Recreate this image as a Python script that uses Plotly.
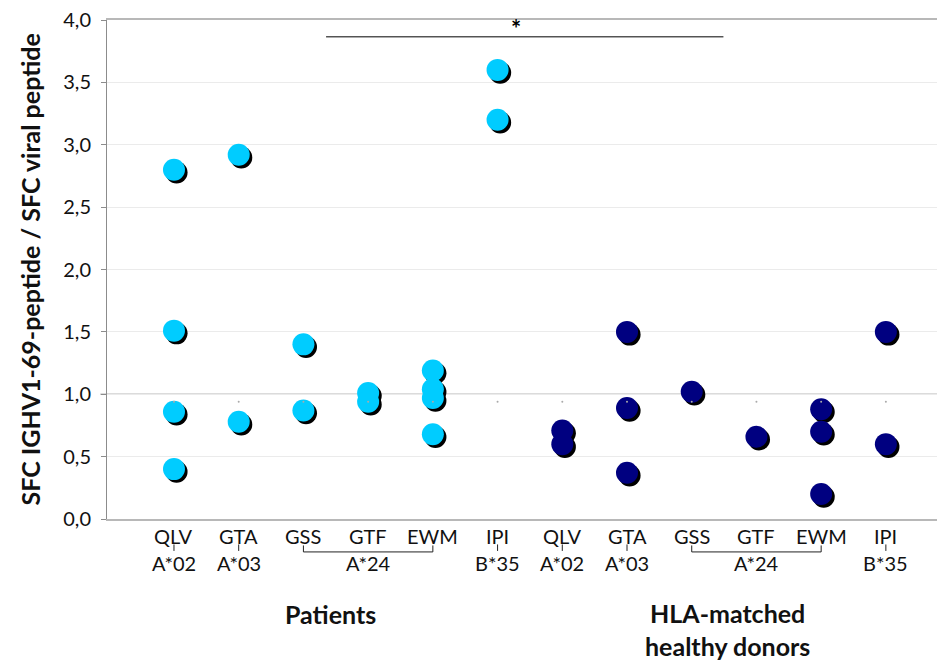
import plotly.graph_objects as go

# Peptides (x categories) with their HLA restriction
peptides = ["QLV", "GTA", "GSS", "GTF", "EWM", "IPI"]
hla = ["A*02", "A*03", "A*24", "A*24", "A*24", "B*35"]

# SFC ratio (IGHV1-69 peptide / viral peptide) per peptide
patients = [
    [2.80, 1.51, 0.86, 0.40],   # QLV
    [2.92, 0.78],               # GTA
    [1.40, 0.87],               # GSS
    [1.01, 0.94],               # GTF
    [1.19, 1.04, 0.97, 0.68],   # EWM
    [3.60, 3.20],               # IPI
]
donors = [
    [0.71, 0.60],               # QLV
    [1.50, 0.89, 0.37],         # GTA
    [1.02],                     # GSS
    [0.66],                     # GTF
    [0.88, 0.70, 0.20],         # EWM
    [1.50, 0.60],               # IPI
]
# small median marks drawn for each column
medians = [0.94] * 12

FONT = "Lato"
CYAN = "#00CCFF"
NAVY = "#000080"


def flatten(groups, offset):
    xs, ys = [], []
    for i, vals in enumerate(groups):
        for v in vals:
            xs.append(i + offset)
            ys.append(v)
    return xs, ys


px, py = flatten(patients, 0)
dx, dy = flatten(donors, len(peptides))

# shadow offset (in axis units, roughly 2-3 px)
SX, SY = 0.04, 0.022

fig = go.Figure()
for xs, ys, col in [(px, py, CYAN), (dx, dy, NAVY)]:
    fig.add_trace(go.Scatter(
        x=[x + SX for x in xs], y=[y - SY for y in ys], mode="markers",
        marker=dict(size=22, color="black", line=dict(width=0)),
        hoverinfo="skip", showlegend=False))
    fig.add_trace(go.Scatter(
        x=xs, y=ys, mode="markers",
        marker=dict(size=22, color=col, line=dict(width=0)),
        showlegend=False))

fig.add_trace(go.Scatter(
    x=list(range(12)), y=medians, mode="markers",
    marker=dict(size=2, color="#aaaaaa"), showlegend=False, hoverinfo="skip"))

# reference line at ratio 1
fig.add_shape(type="line", xref="paper", yref="y", x0=-0.008, x1=1, y0=1, y1=1,
              line=dict(color="#b8b8b8", width=1.5), layer="below")

# significance bar
fig.add_shape(type="line", xref="x", yref="y", x0=2.35, x1=8.49, y0=3.865, y1=3.865,
              line=dict(color="black", width=1))
fig.add_annotation(x=5.29, y=3.93, xref="x", yref="y", text="<b>*</b>",
                   showarrow=False, font=dict(family=FONT, size=24, color="black"))

labels = peptides + peptides
hlas = hla + hla
for i, name in enumerate(labels):
    fig.add_annotation(x=i, y=-0.034, xref="x", yref="paper", text=name,
                       showarrow=False, yanchor="middle",
                       font=dict(family=FONT, size=20, color="#111"))

# HLA labels with connectors; A*24 spans GSS..EWM with a bracket
for base in (0, 6):
    for j in (0, 1, 5):
        i = base + j
        fig.add_annotation(x=i, y=-0.088, xref="x", yref="paper", text=hlas[i],
                           showarrow=False, yanchor="middle",
                           font=dict(family=FONT, size=20, color="#111"))
        fig.add_shape(type="line", xref="x", yref="paper", x0=i, x1=i,
                      y0=-0.051, y1=-0.064, line=dict(color="#222", width=1))
    fig.add_annotation(x=base + 3, y=-0.088, xref="x", yref="paper", text=hlas[base + 3],
                       showarrow=False, yanchor="middle",
                       font=dict(family=FONT, size=20, color="#111"))
    fig.add_shape(type="path", xref="x", yref="paper",
                  path=f"M {base + 2},-0.053 L {base + 2},-0.066 L {base + 4},-0.066 L {base + 4},-0.053",
                  line=dict(color="#222", width=1))

fig.add_annotation(x=2.42, y=-0.19, xref="x", yref="paper", text="<b>Patients</b>",
                   showarrow=False, yanchor="middle",
                   font=dict(family=FONT, size=25, color="#111"))
fig.add_annotation(x=8.55, y=-0.222, xref="x", yref="paper",
                   text="<b>HLA-matched<br>healthy donors</b>",
                   showarrow=False, yanchor="middle",
                   font=dict(family=FONT, size=25, color="#111"))

fig.add_annotation(x=-0.0928, y=0.5, xref="paper", yref="paper",
                   text="<b>SFC IGHV1-69-peptide / SFC viral peptide</b>",
                   textangle=-90, showarrow=False, xanchor="center", yanchor="middle",
                   font=dict(family=FONT, size=25, color="#111"))

fig.update_layout(
    width=937, height=661,
    margin=dict(l=107, r=0, t=20, b=142),
    paper_bgcolor="white", plot_bgcolor="white",
    separators=", ",
    xaxis=dict(range=[-1.035, 11.79], showticklabels=False, showgrid=False,
               zeroline=False, showline=True, mirror=True,
               linecolor="#b8b8b8", linewidth=2, fixedrange=True),
    yaxis=dict(range=[0, 4], dtick=0.5, tick0=0, tickformat=".1f",
               showgrid=True, gridcolor="#ebebeb", gridwidth=1,
               zeroline=False, showline=True, linecolor="#8c8c8c", linewidth=1,
               ticks="outside", ticklen=5, tickcolor="#8c8c8c",
               ticklabelstandoff=6,
               tickfont=dict(family=FONT, size=20, color="#111"),
               fixedrange=True),
    font=dict(family=FONT),
)

fig.write_html("out.html")
